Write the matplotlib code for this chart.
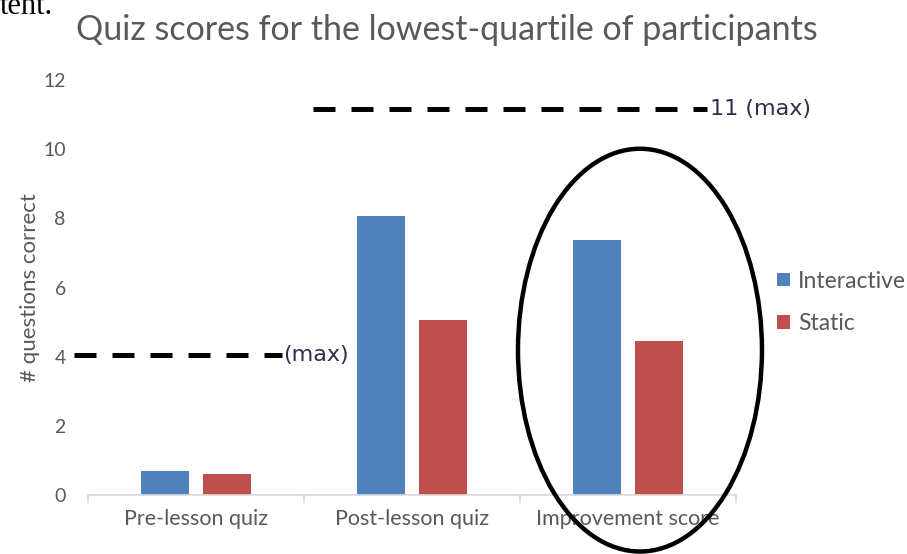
import matplotlib.pyplot as plt
import numpy as np
from matplotlib.patches import Ellipse

categories = ['Pre-lesson quiz', 'Post-lesson quiz', 'Improvement score']
interactive = [0.7, 8.07, 7.37]
static = [0.6, 5.05, 4.45]
series_names = ['Interactive', 'Static']
y_ticks = [0, 2, 4, 6, 8, 10, 12]

# dashed "max" markers
pre_max = 4.05
post_max = 11.15

blue = '#4f81bd'
red = '#c0504d'
gray = '#595959'
font = 'Lato'

fig = plt.figure(figsize=(9.07, 5.54), dpi=100)
ax = fig.add_axes([0.097, 0.1065, 0.7145, 0.749])

x = np.arange(len(categories))
w = 0.222
ax.bar(x - 0.1435, interactive, w, color=blue, label=series_names[0])
ax.bar(x + 0.1435, static, w, color=red, label=series_names[1])

ax.set_xlim(-0.5, 2.5)
ax.set_ylim(0, 12)
ax.set_yticks(y_ticks)
ax.set_xticks(x)
ax.set_xticklabels(categories, family=font, fontsize=15.5, color=gray)
ax.set_xticks([-0.5, 0.5, 1.5, 2.5], minor=True)
ax.tick_params(axis='x', which='major', length=0, pad=10)
ax.tick_params(axis='x', which='minor', length=6, color='#d9d9d9', width=1.2)
ax.tick_params(axis='y', length=0, pad=16, labelcolor=gray, labelsize=14)
for lbl in ax.get_yticklabels():
    lbl.set_family(font)

for s in ['top', 'right', 'left']:
    ax.spines[s].set_visible(False)
ax.spines['bottom'].set_color('#d9d9d9')
ax.spines['bottom'].set_linewidth(1.2)

ax.set_ylabel('# questions correct', family=font, fontsize=16, color=gray, labelpad=2)

# dashed max lines
ax.plot([-0.565, 0.40], [pre_max, pre_max], color='black', lw=3.6,
        dashes=(4.4, 3.2), clip_on=False)
ax.text(0.405, pre_max, '(max)', va='center', ha='left', fontsize=16,
        family='DejaVu Sans', color='#2e2e4e')
ax.plot([0.542, 2.366], [post_max, post_max], color='black', lw=3.6,
        dashes=(4.4, 3.2), clip_on=False)
ax.text(2.38, post_max, '11 (max)', va='center', ha='left', fontsize=16,
        family='DejaVu Sans', color='#2e2e4e', clip_on=False)

leg = ax.legend(loc='center left', bbox_to_anchor=(0.857, 0.454),
                bbox_transform=fig.transFigure, frameon=False,
                borderpad=0, borderaxespad=0,
                handlelength=0.55, handleheight=0.55, handletextpad=0.35,
                labelspacing=0.95, prop={'family': font, 'size': 16.5})
for t in leg.get_texts():
    t.set_color(gray)

fig.suptitle('Quiz scores for the lowest-quartile of participants',
             x=0.493, y=0.975, family=font, fontsize=24.5, color=gray)

# hand-drawn emphasis ellipse
fig.patches.append(Ellipse((0.7056, 0.368), 0.269, 0.727, fill=False,
                           edgecolor='black', lw=3.2,
                           transform=fig.transFigure, figure=fig))

# leftover text from the surrounding document
fig.text(0.0, 1 - 14 / 554, 'tent.', family='Liberation Serif', fontsize=22,
         va='baseline', color='black')

fig.savefig('out.png', dpi=100)
